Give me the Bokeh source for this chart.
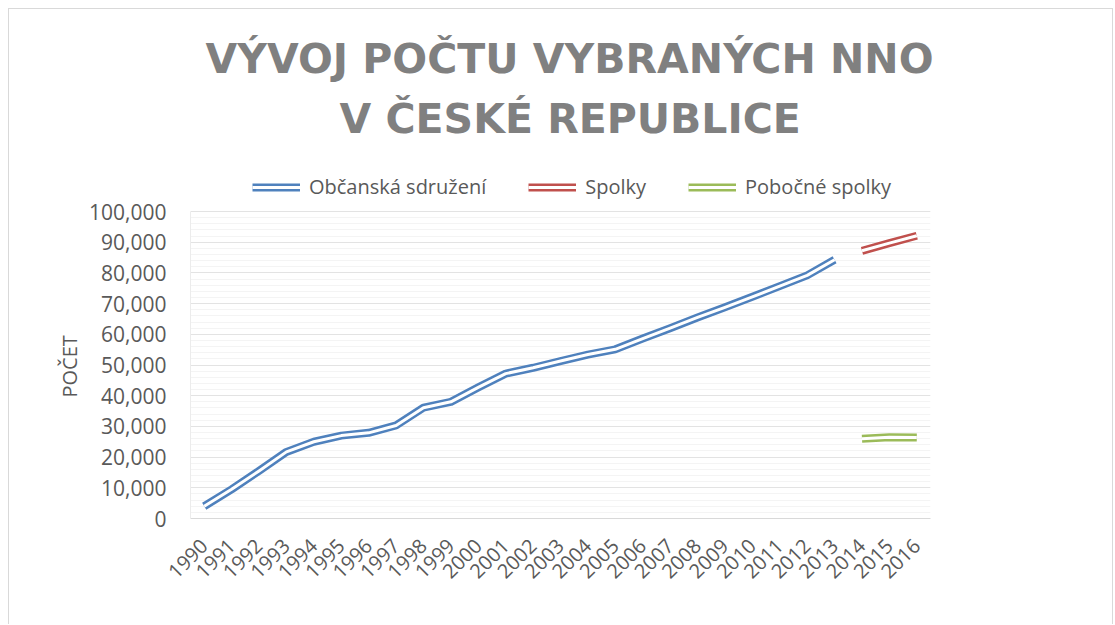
from bokeh.plotting import figure
from bokeh.models import (Range1d, FactorRange, FixedTicker, NumeralTickFormatter,
                          Legend, LegendItem, Title)
from bokeh.embed import file_html
from bokeh.resources import INLINE
import math

# ---------------- data ----------------
years = ["1990", "1991", "1992", "1993", "1994", "1995", "1996", "1997", "1998",
         "1999", "2000", "2001", "2002", "2003", "2004", "2005", "2006", "2007",
         "2008", "2009", "2010", "2011", "2012", "2013", "2014", "2015", "2016"]

os_years = ["1990", "1991", "1992", "1993", "1994", "1995", "1996", "1997", "1998",
            "1999", "2000", "2001", "2002", "2003", "2004", "2005", "2006", "2007",
            "2008", "2009", "2010", "2011", "2012", "2013"]
os_values = [4000, 9500, 15500, 21700, 25000, 27000, 27900, 30300, 36100, 38000,
             42700, 47200, 49100, 51300, 53400, 55100, 58600, 62000, 65500, 68800,
             72200, 75700, 79200, 84300]

sp_years = ["2014", "2015", "2016"]
sp_values = [87200, 89700, 92100]

ps_years = ["2014", "2015", "2016"]
ps_values = [26000, 26500, 26400]

series_names = ["Občanská sdružení", "Spolky", "Pobočné spolky"]
colors = ["#4f81bd", "#c0504d", "#9bbb59"]

y_ticks = [0, 10000, 20000, 30000, 40000, 50000, 60000, 70000, 80000, 90000, 100000]
y_minor_ticks = [v for v in range(0, 100001, 2000)]

title_lines = ["VÝVOJ POČTU VYBRANÝCH NNO", "V ČESKÉ REPUBLICE"]
y_label = "POČET"

# ---------------- layout constants ----------------
W, H = 1105, 616
LEFT = 181
FRAME_TOP = 136          # px from figure top
FRAME_BOTTOM = 509       # px from figure top (value 0)
PX_100K = 307            # pixels for 0..100,000
y_end = 100000 * (FRAME_BOTTOM - FRAME_TOP) / PX_100K

p = figure(x_range=FactorRange(factors=years, range_padding=0),
           y_range=Range1d(0, y_end),
           width=W, height=H,
           output_backend="svg", toolbar_location=None,
           min_border_left=LEFT, min_border_right=W - LEFT - 740,
           min_border_top=FRAME_TOP, min_border_bottom=H - FRAME_BOTTOM,
           styles={"margin-left": "8px", "margin-top": "8px",
                   "border-left": "1px solid #d9d9d9",
                   "border-top": "1px solid #d9d9d9",
                   "border-right": "1px solid #d9d9d9"})

p.outline_line_color = None
p.background_fill_color = "white"
p.border_fill_color = "white"

# grid
p.xgrid.grid_line_color = None
p.yaxis.ticker = FixedTicker(ticks=y_ticks, minor_ticks=y_minor_ticks)
p.yaxis.bounds = (0, 100000)
p.ygrid.grid_line_color = "#e3e3e3"
p.ygrid.grid_line_width = 1
p.ygrid.minor_grid_line_color = "#f4f4f4"
p.ygrid.minor_grid_line_width = 1

# axes
for ax in (p.xaxis, p.yaxis):
    ax.major_tick_line_color = None
    ax.minor_tick_line_color = None
    ax.major_label_text_font = "Open Sans"
    ax.major_label_text_color = "#595959"
p.yaxis.axis_line_color = "#ececec"
p.xaxis.axis_line_color = "#d9d9d9"
p.yaxis.formatter = NumeralTickFormatter(format="0,0")
p.yaxis.major_label_text_font_size = "21px"
p.yaxis.major_label_standoff = 18
p.xaxis.major_label_text_font_size = "20px"
p.xaxis.major_label_orientation = math.pi / 4
p.xaxis.major_label_standoff = 18

# y axis title as a side title so it can be centred on the 0..100,000 span
ytitle = Title(text=y_label, align="left", text_font="Open Sans",
               text_font_size="20px", text_font_style="normal",
               text_color="#595959", offset=121, standoff=8)
p.add_layout(ytitle, "left")

# data lines: compound (double) lines = thick colored + thin white core
items = []
for name, xs, ys, c in [(series_names[0], os_years, os_values, colors[0]),
                        (series_names[1], sp_years, sp_values, colors[1]),
                        (series_names[2], ps_years, ps_values, colors[2])]:
    outer = p.line(xs, ys, line_color=c, line_width=8, line_join="round")
    inner = p.line(xs, ys, line_color="white", line_width=3, line_join="round")
    items.append(LegendItem(label=name, renderers=[outer, inner]))

legend = Legend(items=items, orientation="horizontal", location=(62, 318),
                label_text_font="Open Sans", label_text_font_size="20px",
                label_text_color="#595959", glyph_width=48, glyph_height=20,
                label_standoff=9, spacing=42, padding=0, margin=0,
                border_line_color=None, background_fill_alpha=0)
p.add_layout(legend)

# titles (last added is outermost)
t2 = Title(text=title_lines[1], align="left", text_font="DejaVu Sans",
           text_font_size="41px", text_font_style="bold", text_color="#808080",
           offset=149, standoff=6)
t1 = Title(text=title_lines[0], align="left", text_font="DejaVu Sans",
           text_font_size="41px", text_font_style="bold", text_color="#808080",
           offset=15, standoff=13)
p.add_layout(t2, "above")
p.add_layout(t1, "above")

open("out.html", "w").write(file_html(p, INLINE))
